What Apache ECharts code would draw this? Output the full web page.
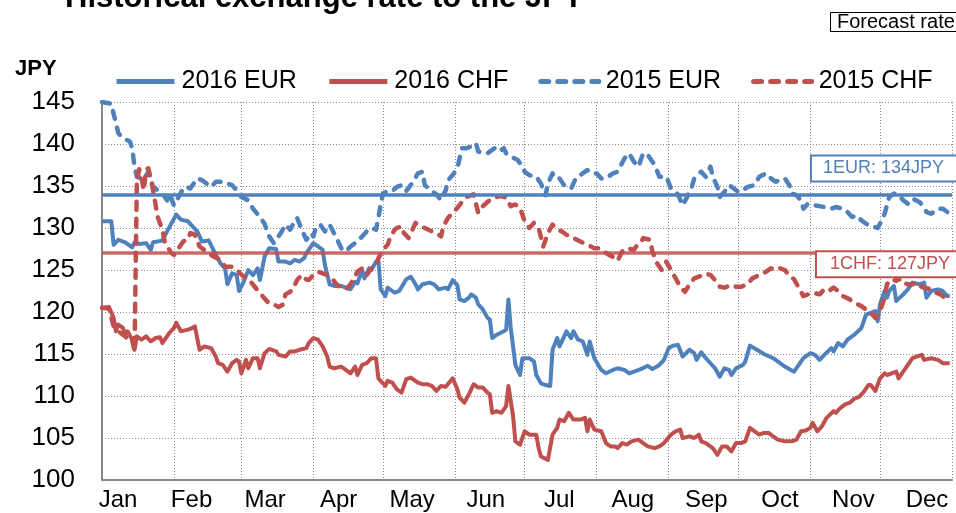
<!doctype html>
<html>
<head>
<meta charset="utf-8">
<title>Historical exchange rate to the JPY</title>
<script src="https://cdn.jsdelivr.net/npm/echarts@6/dist/echarts.min.js"></script>
<style>
  html, body { margin: 0; padding: 0; background: #fff; }
  #main { width: 956px; height: 513px; }
</style>
</head>
<body>
<div id="main"></div>
<script>
// month labels under the x axis
var months = ['Jan', 'Feb', 'Mar', 'Apr', 'May', 'Jun', 'Jul', 'Aug', 'Sep', 'Oct', 'Nov', 'Dec'];

// [day of year (0 = 1 Jan), JPY per unit]
var eur2016 = [
  [0,130.8],[4,130.8],[5,128.0],[7,128.6],[10,128.3],[13,127.7],[14,128.3],[16,128.1],[19,128.2],[21,127.4],
  [22,128.3],[26,128.5],[28,129.6],[30,130.6],[32,131.6],[34,131.0],[37,130.8],[39,130.2],[41,129.6],[43,128.4],
  [46,128.5],[49,126.8],[51,125.8],[53,125.2],[54,123.3],[56,124.6],[58,124.4],[59,122.5],[61,123.6],[63,125.0],
  [65,124.4],[67,125.2],[68,123.8],[70,126.6],[72,127.6],[75,127.5],[76,126.0],[79,126.0],[81,125.8],[83,126.2],
  [85,126.0],[87,126.4],[88,127.0],[91,128.2],[93,127.8],[95,127.4],[96,125.6],[98,123.3],[100,123.1],[103,123.1],
  [105,122.9],[107,122.7],[109,123.6],[110,123.4],[112,125.0],[113,124.0],[115,125.2],[116,125.0],[118,126.0],[119,126.2],
  [120,122.7],[122,121.9],[123,122.9],[125,122.5],[126,122.3],[128,122.5],[131,123.9],[133,124.2],[135,123.3],[136,122.7],
  [138,123.3],[141,123.5],[143,123.3],[145,122.7],[148,122.9],[149,122.7],[151,123.8],[153,123.2],[154,121.5],[156,121.3],
  [158,121.7],[159,122.1],[161,121.7],[162,120.9],[164,120.3],[166,119.3],[167,119.1],[168,116.9],[170,117.3],[173,117.7],
  [174,117.9],[175,121.5],[176,118.1],[178,113.7],[180,112.5],[181,114.5],[184,114.5],[186,114.1],[187,112.5],[189,111.5],
  [191,111.3],[193,111.2],[194,115.5],[196,116.9],[197,115.9],[200,117.7],[202,116.9],[203,117.7],[205,116.7],[207,116.5],
  [209,114.9],[210,116.5],[212,114.5],[215,113.1],[217,112.7],[220,113.1],[222,113.3],[225,113.1],[227,112.7],[229,112.9],
  [232,113.2],[235,113.6],[237,113.2],[240,113.7],[242,114.3],[244,115.7],[246,116.0],[248,116.1],[250,114.7],[253,115.5],
  [255,115.1],[256,114.3],[258,115.2],[260,114.5],[262,113.9],[264,113.3],[266,112.3],[268,113.3],[270,113.1],[271,112.5],
  [273,113.3],[276,113.7],[277,114.1],[279,116.0],[282,115.5],[285,115.0],[289,114.5],[292,113.9],[294,113.5],[298,112.9],
  [300,113.7],[302,114.5],[305,115.1],[307,114.9],[309,114.3],[311,114.9],[314,115.7],[315,115.3],[317,116.3],[319,115.9],
  [321,116.7],[324,117.3],[327,118.1],[329,119.7],[331,119.9],[333,120.1],[334,118.9],[335,120.9],[337,122.5],[338,121.7],
  [339,122.5],[341,123.1],[342,121.3],[345,122.1],[347,122.7],[349,123.5],[352,123.3],[354,123.5],[355,121.7],[357,122.5],
  [360,122.7],[362,122.5],[364,121.9],[365,121.9]
];
var chf2016 = [
  [0,120.5],[3,120.6],[5,119.3],[6,117.7],[7,118.5],[9,118.1],[10,117.3],[11,117.7],[13,116.7],[14,115.5],
  [15,117.1],[17,116.7],[19,117.1],[21,116.5],[23,116.9],[25,117.0],[26,116.3],[29,117.5],[31,118.1],[32,118.7],
  [34,117.7],[37,117.9],[39,118.1],[40,118.3],[42,115.5],[44,115.9],[47,115.7],[49,114.7],[50,113.9],[52,113.7],
  [54,112.9],[56,113.9],[58,114.3],[59,114.1],[60,112.7],[62,114.3],[63,113.3],[65,114.5],[67,114.5],[68,113.3],
  [70,115.1],[72,115.6],[75,115.3],[76,114.9],[79,114.7],[81,115.3],[83,115.3],[85,115.5],[88,115.7],[89,116.3],
  [91,116.9],[93,116.7],[95,115.9],[97,114.7],[98,113.5],[100,113.3],[103,113.5],[105,113.1],[107,112.7],[109,113.5],
  [110,112.5],[112,113.7],[114,113.9],[116,114.5],[118,114.5],[119,112.1],[122,111.2],[123,111.8],[125,111.6],[127,110.8],
  [129,110.4],[131,112.0],[133,112.2],[136,111.6],[138,111.4],[140,111.4],[142,111.2],[144,110.6],[146,111.2],[148,111.1],
  [151,112.1],[153,110.8],[154,109.8],[156,109.2],[158,110.2],[160,111.4],[162,111.0],[164,111.0],[166,110.4],[167,110.2],
  [168,108.0],[170,108.2],[172,108.0],[174,108.8],[175,111.2],[177,107.6],[178,104.6],[180,104.2],[182,105.8],[184,105.4],
  [187,105.4],[188,103.8],[189,102.8],[192,102.4],[194,105.4],[196,106.2],[197,107.2],[199,107.0],[201,108.0],[203,107.2],
  [206,107.2],[208,107.4],[209,105.8],[210,107.2],[212,106.0],[215,105.8],[217,104.4],[219,104.0],[221,104.0],[222,103.8],
  [224,104.4],[226,104.2],[228,104.6],[231,104.8],[233,104.4],[235,104.0],[238,103.8],[240,104.0],[242,104.4],[245,105.4],
  [247,105.8],[249,106.0],[250,105.0],[253,105.2],[255,105.0],[257,105.4],[258,104.6],[260,104.4],[263,103.8],[265,103.0],
  [267,104.0],[269,104.0],[271,103.4],[273,104.4],[275,104.4],[277,104.6],[279,106.2],[281,105.8],[283,105.4],[285,105.6],
  [287,105.6],[289,105.2],[291,104.8],[294,104.6],[297,104.6],[299,104.8],[301,105.8],[303,105.9],[305,106.2],[306,106.8],
  [308,105.8],[310,106.4],[312,107.4],[315,108.2],[316,108.0],[318,108.6],[320,109.0],[322,109.2],[324,109.7],[326,109.9],
  [328,110.5],[330,111.3],[331,111.3],[333,110.6],[335,112.1],[337,112.7],[338,112.5],[340,112.7],[342,112.9],[343,112.1],
  [345,112.9],[347,113.7],[349,114.5],[352,114.8],[353,114.9],[354,114.3],[357,114.5],[360,114.3],[362,113.9],[365,113.9]
];
var eur2015 = [
  [0,145.0],[4,144.8],[5,143.6],[6,142.5],[7,141.3],[9,140.7],[12,140.3],[13,139.5],[14,137.3],[15,136.1],
  [18,135.8],[20,136.7],[22,134.9],[24,134.5],[26,134.1],[28,133.3],[29,134.1],[31,132.7],[33,133.7],[35,134.7],
  [36,134.9],[38,134.7],[41,135.9],[43,135.7],[44,135.5],[47,134.9],[49,135.5],[52,135.5],[54,135.3],[56,135.1],
  [58,134.5],[60,133.7],[63,133.3],[65,132.3],[68,131.3],[70,130.5],[72,129.0],[74,128.2],[77,129.4],[79,130.4],
  [81,129.8],[83,130.8],[84,131.2],[86,129.8],[88,128.6],[90,129.4],[91,129.0],[92,130.0],[94,130.4],[96,129.6],
  [98,130.4],[101,128.8],[103,127.6],[105,127.2],[107,127.8],[110,128.4],[112,129.0],[114,129.6],[116,130.0],[118,129.8],
  [119,131.2],[120,132.8],[121,134.1],[123,134.4],[125,134.4],[127,134.9],[129,135.1],[131,134.4],[134,135.5],[136,136.5],
  [138,136.7],[139,135.1],[142,134.4],[144,134.0],[146,133.3],[148,134.5],[149,135.7],[151,136.3],[153,137.1],[155,139.5],
  [157,139.5],[159,139.7],[161,140.1],[162,139.1],[166,138.9],[169,139.5],[171,139.1],[173,139.5],[174,138.9],[176,138.5],
  [179,138.1],[181,137.3],[182,136.7],[184,136.3],[187,136.1],[189,135.3],[191,133.9],[192,135.3],[194,136.5],[195,135.9],
  [197,135.9],[199,135.1],[202,134.7],[204,135.9],[206,136.3],[209,136.9],[211,136.5],[213,136.5],[215,135.9],[217,135.9],
  [220,136.5],[222,136.7],[225,138.3],[227,138.9],[229,137.9],[231,137.3],[233,138.9],[235,138.7],[238,137.5],[240,136.1],
  [243,136.1],[245,134.7],[248,134.0],[250,132.7],[252,133.7],[254,134.9],[255,135.9],[258,136.7],[260,136.1],[262,137.3],
  [263,136.1],[265,134.9],[266,133.7],[268,134.3],[270,135.1],[272,134.7],[274,134.3],[276,134.5],[278,134.9],[281,135.1],
  [283,136.1],[286,136.5],[288,135.9],[290,135.5],[292,135.7],[294,135.9],[296,135.1],[297,134.1],[299,133.9],[301,133.3],
  [302,132.3],[304,132.9],[307,132.7],[311,132.5],[314,132.3],[316,132.5],[319,132.3],[321,131.9],[323,131.3],[325,131.5],
  [327,130.9],[329,130.5],[332,130.2],[334,130.0],[336,131.0],[337,131.7],[338,132.7],[339,133.7],[341,134.1],[343,133.9],
  [345,133.3],[347,132.9],[349,133.5],[352,133.1],[354,132.5],[355,131.9],[357,131.7],[360,132.3],[362,132.3],[364,131.9],
  [365,131.5]
];
var chf2015 = [
  [0,120.5],[3,120.4],[5,118.3],[8,117.5],[10,117.1],[12,116.5],[13,116.7],[14,115.3],[15,135.5],[16,137.0],
  [17,136.0],[18,134.5],[19,137.0],[20,137.1],[21,135.8],[22,134.5],[23,132.9],[24,131.3],[26,129.8],[27,128.4],
  [28,127.8],[30,127.0],[31,126.8],[33,127.6],[35,128.4],[37,128.6],[38,129.4],[40,129.2],[42,127.8],[44,127.4],
  [46,127.0],[48,126.6],[51,126.2],[53,125.4],[56,125.4],[58,125.0],[61,124.2],[64,123.6],[67,122.6],[70,121.6],
  [72,121.0],[74,120.9],[76,120.6],[78,120.9],[79,122.1],[81,122.4],[82,122.6],[84,123.8],[86,124.4],[87,124.0],
  [89,123.8],[91,124.4],[93,124.8],[95,124.6],[97,124.4],[99,124.0],[101,123.3],[103,122.9],[105,122.7],[107,123.3],
  [108,123.8],[110,124.8],[112,125.2],[114,124.4],[116,125.2],[118,125.6],[119,126.4],[121,127.4],[123,128.0],[124,128.8],
  [126,129.8],[127,130.0],[129,130.2],[130,129.4],[132,128.8],[133,129.4],[135,130.6],[137,130.2],[139,130.0],[142,129.6],
  [144,129.4],[146,129.0],[147,130.2],[149,131.2],[151,131.8],[153,132.4],[155,133.1],[157,133.7],[160,134.0],[162,131.8],
  [164,132.6],[166,133.1],[168,133.5],[170,133.7],[172,133.8],[174,133.6],[176,132.6],[178,132.8],[180,132.4],[182,130.8],
  [184,130.0],[186,130.6],[188,130.0],[190,127.8],[192,129.4],[194,130.4],[196,129.8],[198,129.6],[200,129.2],[203,128.8],
  [206,128.4],[209,128.0],[212,127.6],[214,127.6],[216,127.2],[219,126.7],[221,126.4],[222,126.1],[224,127.2],[226,127.6],
  [229,127.4],[230,127.8],[232,128.2],[233,128.8],[236,128.6],[237,127.2],[239,125.8],[241,125.0],[243,126.0],[245,125.0],
  [247,124.0],[249,123.0],[251,122.4],[253,123.3],[255,124.0],[258,124.3],[260,124.6],[262,124.4],[264,123.8],[266,123.0],
  [268,122.9],[271,123.2],[273,123.0],[275,123.0],[278,123.3],[280,124.0],[283,124.4],[286,124.8],[288,125.2],[290,125.0],
  [292,125.2],[294,125.0],[296,124.3],[298,123.9],[300,122.9],[302,121.9],[304,122.1],[306,122.3],[309,122.1],[311,122.7],
  [313,122.5],[315,122.9],[317,122.5],[319,121.9],[322,121.5],[324,121.1],[327,120.7],[329,120.3],[331,119.9],[333,119.3],
  [335,120.1],[337,121.7],[338,123.3],[340,123.9],[342,123.7],[343,124.1],[344,123.5],[347,123.3],[349,123.3],[351,123.5],
  [352,123.1],[354,122.9],[357,122.7],[359,122.3],[361,122.1],[363,121.7],[365,121.3]
];
var eurRate = 134;
var chfRate = 127;

var BLUE = '#4f81bd';
var RED = '#c0504d';
var FONT = '"Liberation Sans", Arial, sans-serif';

function toTime(list) {
  return list.map(function (p) {
    return [new Date(2016, 0, 1 + p[0]).getTime(), p[1]];
  });
}

var myChart = echarts.init(document.getElementById('main'));

option = {
  animation: false,
  textStyle: { fontFamily: FONT },
  title: [
    {
      text: 'Historical exchange rate to the JPY',
      left: 65, top: -17, padding: 0,
      textStyle: { fontSize: 31, fontWeight: 'bold', color: '#000', fontFamily: FONT }
    },
    {
      text: 'Forecast rate',
      left: 830, top: 12, padding: [0, 20, 0, 7],
      borderColor: '#000', borderWidth: 1,
      textStyle: { fontSize: 20, fontWeight: 'normal', color: '#000', fontFamily: FONT }
    },
    {
      text: 'JPY',
      left: 15, top: 58, padding: 0,
      textStyle: { fontSize: 22, fontWeight: 'bold', color: '#000', fontFamily: FONT }
    }
  ],
  legend: {
    left: 114, top: 69, padding: 0,
    itemWidth: 58, itemHeight: 14, itemGap: 30,
    itemStyle: { opacity: 0 },
    lineStyle: { width: 5 },
    textStyle: { fontSize: 25, color: '#000', fontFamily: FONT, padding: [0, 0, 0, 2] },
    data: ['2016 EUR', '2016 CHF', '2015 EUR', '2015 CHF']
  },
  grid: [
    { left: 102, right: 4, top: 102, bottom: 33 },
    { left: 118, right: 29, top: 102, bottom: 33 }
  ],
  xAxis: [
    {
      type: 'time',
      gridIndex: 0,
      min: new Date(2016, 0, 1).getTime(),
      max: new Date(2017, 0, 1).getTime(),
      splitNumber: 12,
      axisLine: { lineStyle: { color: '#878787', width: 2 } },
      axisTick: { show: false },
      axisLabel: { show: false },
      splitLine: { show: true, lineStyle: { color: '#8c8c8c', width: 1, type: [1, 2] } }
    },
    {
      type: 'category',
      gridIndex: 1,
      boundaryGap: false,
      data: months,
      axisLine: { show: false },
      axisTick: { show: false },
      splitLine: { show: false },
      axisLabel: { interval: 0, margin: 8, fontSize: 24, color: '#000', fontFamily: FONT }
    }
  ],
  yAxis: [
    {
      type: 'value',
      gridIndex: 0,
      min: 100, max: 145, interval: 5,
      axisLine: { show: true, lineStyle: { color: '#878787', width: 2 } },
      axisTick: { show: false },
      axisLabel: { margin: 27, fontSize: 26, color: '#000', fontFamily: FONT },
      splitLine: { lineStyle: { color: '#8c8c8c', width: 1, type: [1, 2] } }
    },
    { type: 'value', gridIndex: 1, show: false, min: 100, max: 145 }
  ],
  series: [
    {
      name: '2016 EUR', type: 'line', symbol: 'none', data: toTime(eur2016),
      lineStyle: { color: BLUE, width: 4, join: 'round' }, itemStyle: { color: BLUE },
      markLine: {
        silent: true, symbol: 'none',
        lineStyle: { color: BLUE, width: 3.5, type: 'solid' },
        label: {
          position: 'insideEndTop', distance: [-4, 14],
          formatter: '1EUR: ' + eurRate + 'JPY',
          color: BLUE, fontSize: 18, fontFamily: FONT,
          backgroundColor: '#fff', borderColor: BLUE, borderWidth: 2,
          padding: [3, 12, 3, 11]
        },
        data: [{ yAxis: eurRate }]
      }
    },
    {
      name: '2016 CHF', type: 'line', symbol: 'none', data: toTime(chf2016),
      lineStyle: { color: RED, width: 4, join: 'round' }, itemStyle: { color: RED },
      markLine: {
        silent: true, symbol: 'none',
        lineStyle: { color: 'rgba(192,80,77,0.85)', width: 3.5, type: 'solid' },
        label: {
          position: 'insideEndBottom', distance: [-4, -1],
          formatter: '1CHF: ' + chfRate + 'JPY',
          color: RED, fontSize: 18, fontFamily: FONT,
          backgroundColor: '#fff', borderColor: RED, borderWidth: 2,
          padding: [3, 6, 3, 13]
        },
        data: [{ yAxis: chfRate }]
      }
    },
    {
      name: '2015 EUR', type: 'line', symbol: 'none', data: toTime(eur2015),
      lineStyle: { color: BLUE, width: 4.5, type: [8, 9], cap: 'round', join: 'round' }, itemStyle: { color: BLUE }
    },
    {
      name: '2015 CHF', type: 'line', symbol: 'none', data: toTime(chf2015),
      lineStyle: { color: RED, width: 4.5, type: [8, 9], cap: 'round', join: 'round' }, itemStyle: { color: RED }
    }
  ]
};
myChart.setOption(option);
</script>
</body>
</html>
